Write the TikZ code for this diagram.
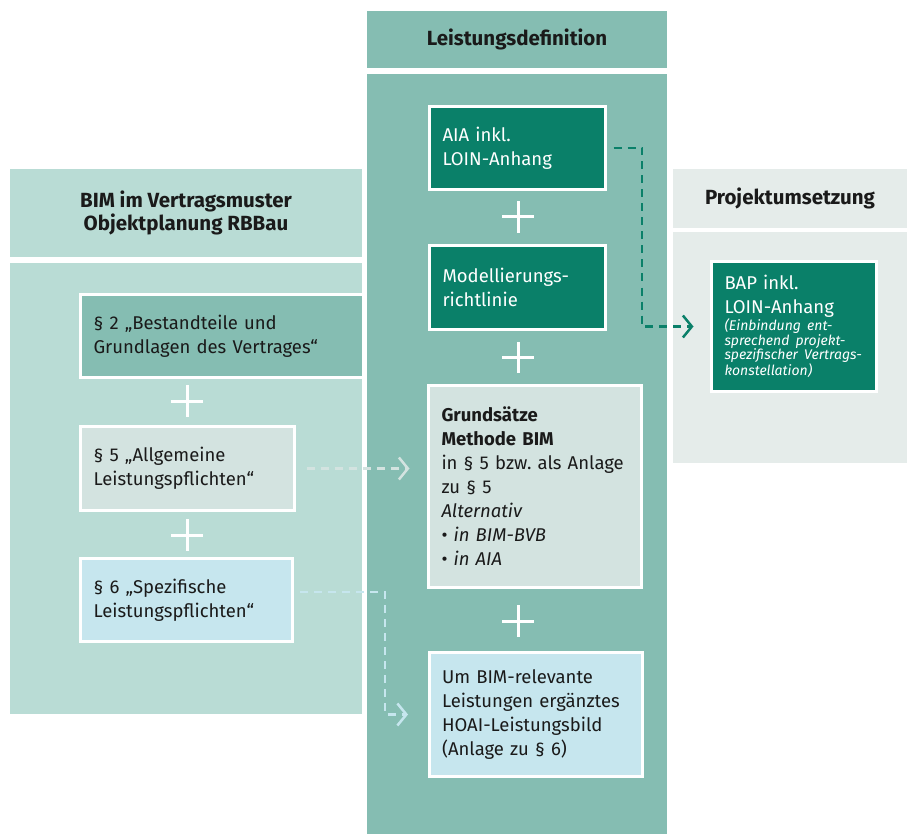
\documentclass[tikz,border=0pt]{standalone}
\usepackage{fontspec}
\setmainfont{Fira Sans}
\usetikzlibrary{arrows.meta, shapes.misc}
\frenchspacing
\definecolor{colmid}{RGB}{133,189,178}
\definecolor{colleft}{RGB}{185,220,213}
\definecolor{colright}{RGB}{229,236,234}
\definecolor{darkgreen}{RGB}{10,128,105}
\definecolor{lightgrey}{RGB}{211,227,224}
\definecolor{lightcyan}{RGB}{198,230,238}
\definecolor{textdark}{RGB}{26,26,26}

\begin{document}
\begin{tikzpicture}[x=1pt, y=-1pt,
  box/.style={rectangle, draw=white, line width=3pt,
              inner xsep=13pt, inner ysep=0pt, align=left,
              text=textdark, font=\fontsize{18.5}{24}\selectfont},
  head/.style={rectangle, inner sep=0pt, align=center,
               text=textdark, font=\fontsize{20.5}{23}\selectfont\bfseries},
  plus/.style={cross out, draw=white, line width=3pt, rotate=45,
               minimum size=19pt, inner sep=0pt},
  link/.style={line width=2.5pt, dash pattern=on 8pt off 6pt,
               -{Straight Barb[length=9pt, width=22pt]}}
]
  \useasboundingbox (0,0) rectangle (907,834);

  %% -- Columns
  \node[head, fill=colleft, minimum width=352pt, minimum height=88pt] (hleft) at (186,213)
    {BIM im Vertragsmuster\\Objektplanung RBBau};
  \fill[colleft] (10,263) rectangle (362,714);

  \node[head, fill=colmid, minimum width=300pt, minimum height=57pt] (hmid) at (517,39.5)
    {Leistungsdefinition};
  \fill[colmid] (367,74) rectangle (667,834);

  \node[head, fill=colright, minimum width=234pt, minimum height=59pt] (hright) at (790,198.5)
    {Projektumsetzung};
  \fill[colright] (673,232) rectangle (907,463);

  %% -- Vertragsmuster
  \node[box, fill=colmid, text width=257pt, minimum height=83pt] (s2) at (222,336)
    {§ 2 „Bestandteile und\\Grundlagen des Vertrages“};
  \node[plus] (p4) at (187,401) {};
  \node[box, fill=lightgrey, text width=188pt, minimum height=84pt] (s5) at (187.5,468.5)
    {§ 5 „Allgemeine\\Leistungspflichten“};
  \node[plus] (p5) at (187,535) {};
  \node[box, fill=lightcyan, text width=186pt, minimum height=83pt] (s6) at (186.5,600)
    {§ 6 „Spezifische\\Leistungspflichten“};

  %% -- Leistungsdefinition
  \node[box, fill=darkgreen, text=white, text width=150pt, minimum height=83pt] (aia) at (517.5,148)
    {AIA inkl.\\LOIN-Anhang};
  \node[plus] (p1) at (518,217) {};
  \node[box, fill=darkgreen, text=white, text width=150pt, minimum height=84pt] (mod) at (517.5,287.5)
    {Modellierungs-\\richtlinie};
  \node[plus] (p2) at (518,357.5) {};
  \node[box, fill=lightgrey, text width=187pt, minimum height=202pt] (grund) at (535,486.5)
    {\textbf{Grundsätze}\\\textbf{Methode BIM}\\in § 5 bzw. als Anlage\\zu § 5\\
     \textit{Alternativ}\\\textbullet\ \textit{in BIM-BVB}\\\textbullet\ \textit{in AIA}};
  \node[plus] (p3) at (518,621) {};
  \node[box, fill=lightcyan, text width=187pt, minimum height=124pt] (um) at (535.5,714.5)
    {Um BIM-relevante\\Leistungen ergänztes\\HOAI-Leistungsbild\\(Anlage zu § 6)};

  %% -- Projektumsetzung
  \node[box, fill=darkgreen, text=white, text width=139pt, minimum height=130pt] (bap) at (794,326.5)
    {BAP inkl.\\LOIN-Anhang\par
     {\fontsize{14}{14.5}\selectfont\itshape (Einbindung ent-\\sprechend projekt-\\spezifischer Vertrags-\\konstellation)\par}};

  %% Connections
  \coordinate (k1) at (642,146);
  \coordinate (k6) at (385,592);
  \draw[link, darkgreen, shorten <=6.5pt, shorten >=16.5pt]
    (aia.east) -- (aia.east -| k1) |- (bap.west);
  \draw[link, lightgrey, shorten <=10.5pt, shorten >=17.5pt]
    (s5.east) -- (s5.east -| grund.west);
  \draw[link, lightcyan, shorten <=6pt, shorten >=19.5pt]
    ([yshift=8pt]s6.east) -- (k6) |- (um.west);

\end{tikzpicture}
\end{document}
